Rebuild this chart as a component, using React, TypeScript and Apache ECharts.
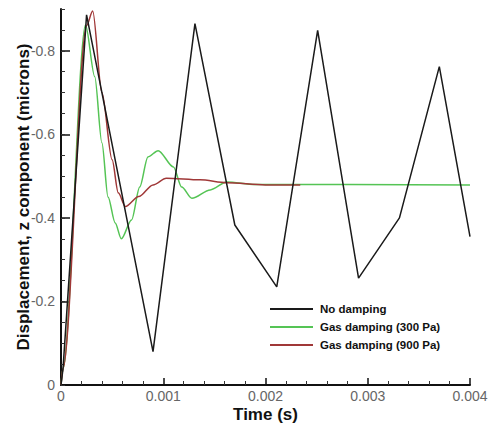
import React, { useEffect, useRef } from "react";
import * as echarts from "echarts";

// Time (s) and z displacement (microns)
const noDampT = [0, 0.00002, 0.00025, 0.0009, 0.00131, 0.0017, 0.00211, 0.00251, 0.00291, 0.00331, 0.0037, 0.004];
const noDampZ = [0, -0.04, -0.886, -0.08, -0.865, -0.383, -0.235, -0.849, -0.256, -0.4, -0.762, -0.355];

const gas300T = [0, 0.00002, 0.00024, 0.00033, 0.0004, 0.00046, 0.00053, 0.00059, 0.00069, 0.00077, 0.00085, 0.00095, 0.0011, 0.00118, 0.00128, 0.00146, 0.00162, 0.0019, 0.004];
const gas300Z = [0, -0.04, -0.862, -0.738, -0.58, -0.45, -0.388, -0.35, -0.395, -0.474, -0.546, -0.561, -0.522, -0.474, -0.447, -0.467, -0.486, -0.48, -0.479];

const gas900T = [0, 0.00002, 0.00025, 0.00031, 0.0004, 0.0005, 0.00056, 0.00063, 0.00076, 0.0009, 0.00103, 0.00136, 0.00162, 0.002, 0.00234];
const gas900Z = [0, -0.04, -0.86, -0.895, -0.7, -0.539, -0.46, -0.427, -0.451, -0.479, -0.495, -0.491, -0.484, -0.479, -0.479];

const seriesNames = ["No damping", "Gas damping (300 Pa)", "Gas damping (900 Pa)"];
const yMajorTicks = [-0.8, -0.6, -0.4, -0.2, 0];
const xTickLabels = ["0", "0.001", "0.002", "0.003", "0.004"];

const zip = (t: number[], z: number[]) => t.map((v, i) => [v, z[i]]);

export default function App() {
  const ref = useRef<HTMLDivElement>(null);
  useEffect(() => {
    if (!ref.current) return;
    const chart = echarts.init(ref.current, undefined, { renderer: "svg" });
    const font = "Liberation Sans, Arial, sans-serif";
    chart.setOption({
      animation: false,
      backgroundColor: "#ffffff",
      grid: { left: 61, right: 23, top: 9, bottom: 39, containLabel: false, outerBoundsMode: "none" },
      legend: {
        orient: "vertical",
        left: 270,
        top: 303,
        padding: 0,
        icon: "rect",
        itemWidth: 43,
        itemHeight: 2,
        itemGap: 6,
        data: seriesNames,
        textStyle: { fontFamily: font, fontSize: 11.5, fontWeight: "bold", color: "#111", padding: [0, 0, 0, 2] },
      },
      xAxis: {
        type: "value",
        min: 0,
        max: 0.004,
        interval: 0.001,
        name: "Time (s)",
        nameLocation: "middle",
        nameGap: 21,
        nameMoveOverlap: false,
        nameTextStyle: { fontFamily: font, fontSize: 17, fontWeight: "bold", color: "#111" },
        axisLine: { show: true, onZero: false, lineStyle: { color: "#111", width: 2 } },
        axisTick: { show: true, inside: true, length: 7, lineStyle: { color: "#111", width: 1.5 } },
        minorTick: { show: true, splitNumber: 5, length: 4, lineStyle: { color: "#333", width: 1 } },
        axisLabel: {
          color: "#666",
          fontFamily: font,
          fontSize: 14,
          margin: 4,
          formatter: (v: number) => xTickLabels[Math.round(v / 0.001)] ?? "",
        },
        splitLine: { show: false },
      },
      yAxis: [
        {
          type: "value",
          inverse: true,
          min: -0.9,
          max: 0,
          interval: 0.05,
          position: "left",
          name: "Displacement, z component (microns)",
          nameLocation: "middle",
          nameRotate: 90,
          nameGap: 29,
          nameMoveOverlap: false,
          nameTextStyle: { fontFamily: font, fontSize: 17, fontWeight: "bold", color: "#111" },
          axisLine: { show: true, onZero: false, lineStyle: { color: "#111", width: 2 } },
          axisTick: { show: true, inside: true, length: 9, customValues: yMajorTicks, lineStyle: { color: "#111", width: 1.5 } },
          axisLabel: {
            customValues: yMajorTicks,
            color: "#666",
            fontFamily: font,
            fontSize: 14,
            margin: 6,
            formatter: (v: number) => (Math.abs(v) < 1e-9 ? "0" : v.toFixed(1)),
          },
          splitLine: { show: false },
        },
        {
          type: "value",
          inverse: true,
          min: -0.9,
          max: 0,
          interval: 0.05,
          position: "left",
          offset: 0,
          axisLine: { show: false },
          axisTick: { show: true, inside: true, length: 4, lineStyle: { color: "#333", width: 1 } },
          axisLabel: { show: false },
          splitLine: { show: false },
        },
      ],
      series: [
        {
          name: seriesNames[0],
          type: "line",
          z: 4,
          data: zip(noDampT, noDampZ),
          showSymbol: false,
          lineStyle: { color: "#1a1a1a", width: 1.5 },
          itemStyle: { color: "#1a1a1a" },
        },
        {
          name: seriesNames[1],
          type: "line",
          z: 2,
          data: zip(gas300T, gas300Z),
          showSymbol: false,
          smooth: 0.3,
          smoothMonotone: "x",
          lineStyle: { color: "#55c455", width: 1.5 },
          itemStyle: { color: "#55c455" },
        },
        {
          name: seriesNames[2],
          type: "line",
          z: 3,
          data: zip(gas900T, gas900Z),
          showSymbol: false,
          smooth: 0.3,
          smoothMonotone: "x",
          lineStyle: { color: "#a03838", width: 1.5 },
          itemStyle: { color: "#a03838" },
        },
      ],
    });
    return () => chart.dispose();
  }, []);
  return <div ref={ref} style={{ position: "absolute", left: 0, top: 0, width: 493, height: 424 }} />;
}
